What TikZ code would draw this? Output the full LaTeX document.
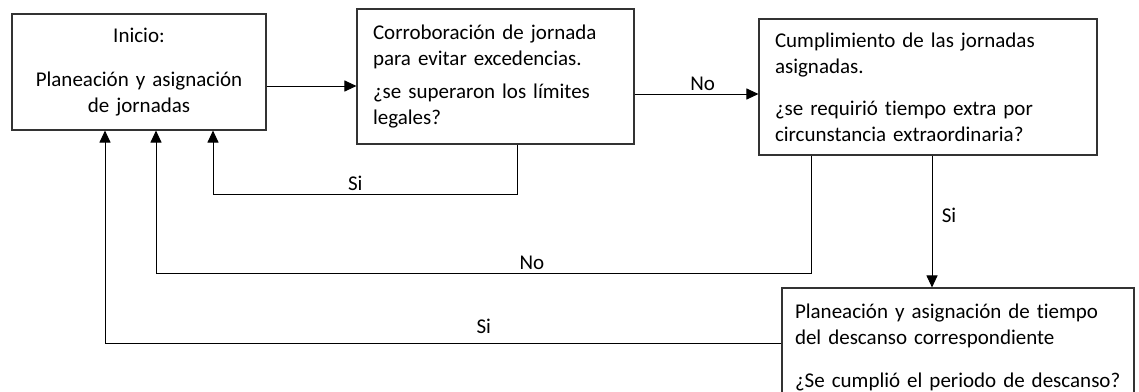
\documentclass[tikz,border=0pt]{standalone}
\usepackage{fontspec}
\setmainfont{Carlito}[Ligatures=NoCommon]
\usetikzlibrary{arrows.meta}

\begin{document}
\begin{tikzpicture}[x=1pt, y=-1pt,
	caja/.style={draw=black!80, line width=1.1pt, inner xsep=16pt, inner ysep=0pt, align=left, font=\fontsize{21}{26}\selectfont},
	flecha/.style={line width=1pt, arrows={-Triangle[length=12pt, width=11pt]}},
	etiqueta/.style={font=\fontsize{21}{26}\selectfont}]
	\useasboundingbox (0,0) rectangle (1139,391);
	\node [caja, align=center, text width=222pt, minimum height=116pt] (inicio) at (139,72) {Inicio:\\[18pt] Planeación y asignación\\ de jornadas};
	\node [caja, text width=245pt, minimum height=135pt] (corrob) at (495.5,76.5) {Corroboración de jornada\\ para evitar excedencias.\\[7pt] ¿se superaron los límites\\ legales?};
	\node [caja, text width=306pt, minimum height=136pt] (cumpl) at (928,87) {Cumplimiento de las jornadas\\ asignadas.\\[16pt] ¿se requirió tiempo extra por\\ circunstancia extraordinaria?};
	\node [caja, inner xsep=13pt, text width=326pt, minimum height=119pt] (desc) at (958,347.5) {Planeación y asignación de tiempo\\ del descanso correspondiente\\[17pt] ¿Se cumplió el periodo de descanso?};
	\draw [flecha] ([yshift=-14pt]inicio.east) -- ([yshift=-14pt]inicio.east -| corrob.west);
	\draw [flecha] ([yshift=-17.5pt]corrob.east) -- ([yshift=-17.5pt]corrob.east -| cumpl.west) node [etiqueta, pos=0.55, above] {No};
	\draw [flecha] ([xshift=21.5pt]corrob.south) -- ++(0,50) -| ([xshift=74pt]inicio.south) node [etiqueta, pos=0.266, above] {Si};
	\draw [flecha] ([xshift=-117pt]cumpl.south) -- ++(0,118) -| ([xshift=17pt]inicio.south) node [etiqueta, pos=0.213, above] {No};
	\draw [flecha] ([xshift=4pt]cumpl.south) -- ([xshift=4pt]cumpl.south |- desc.north) node [etiqueta, pos=0.45, right=6pt] {Si};
	\draw [flecha] ([yshift=4.5pt]desc.west) -| ([xshift=-34pt]inicio.south) node [etiqueta, pos=0.22, above=6pt] {Si};
\end{tikzpicture}
\end{document}
